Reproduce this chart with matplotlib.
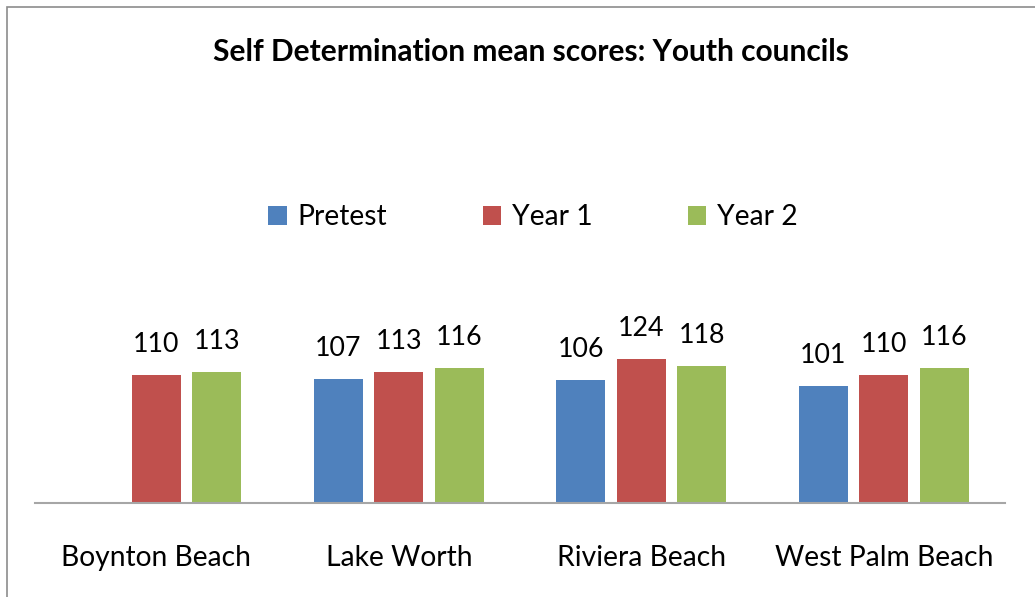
import numpy as np
import matplotlib
matplotlib.use("Agg")
import matplotlib.pyplot as plt
from matplotlib.patches import Rectangle

categories = ["Boynton Beach", "Lake Worth", "Riviera Beach", "West Palm Beach"]
series_names = ["Pretest", "Year 1", "Year 2"]
pretest = [np.nan, 107, 106, 101]
year1 = [110, 113, 124, 110]
year2 = [113, 116, 118, 116]
colors = ["#4F81BD", "#C0504D", "#9BBB59"]

W, H = 1035, 597
fig = plt.figure(figsize=(W / 100, H / 100), dpi=100)
fig.patch.set_facecolor("white")

FONT = "Lato"

ax = fig.add_axes([35 / W, 1 - 503 / H, 970 / W, 162.4 / H])
x = np.arange(len(categories))
offsets = [-0.25, 0.0, 0.25]
bw = 0.202
for vals, name, c, off in zip([pretest, year1, year2], series_names, colors, offsets):
    ax.bar(x + off, vals, width=bw, color=c, label=name, zorder=2)
    for xi, v in zip(x + off, vals):
        if np.isnan(v):
            continue
        ax.annotate(f"{v:.0f}", (xi, v), xytext=(0, 13), textcoords="offset points",
                    ha="center", va="bottom", fontsize=19.3, family=FONT,
                    annotation_clip=False, color="black")

ax.set_xlim(-0.5, len(categories) - 0.5)
ax.set_ylim(0, 140)
ax.set_yticks([])
ax.set_xticks(x)
ax.set_xticklabels(categories, fontsize=20.3, family=FONT)
ax.tick_params(axis="x", length=0, pad=30)
for s in ["top", "right", "left"]:
    ax.spines[s].set_visible(False)
ax.spines["bottom"].set_color("#A6A6A6")
ax.spines["bottom"].set_linewidth(1.5)
ax.spines["bottom"].set_zorder(3)
ax.patch.set_visible(False)

fig.text(530.5 / W, 1 - 52 / H, "Self Determination mean scores: Youth councils",
         ha="center", va="center", fontsize=21.5, fontweight="bold", family=FONT)

leg = fig.legend(loc="center", bbox_to_anchor=(533 / W, 1 - 217 / H), ncol=3,
                 frameon=False, prop={"family": FONT, "size": 20.3},
                 handlelength=0.65, handleheight=0.65, handletextpad=0.385,
                 columnspacing=3.38, borderpad=0, borderaxespad=0)

fig.add_artist(Rectangle((7 / W, -0.05), 1.1, 1.05 - 7 / H, transform=fig.transFigure,
                         fill=False, edgecolor="#8C8C8C", linewidth=1.2))

fig.savefig("out.png", dpi=100, facecolor="white")
